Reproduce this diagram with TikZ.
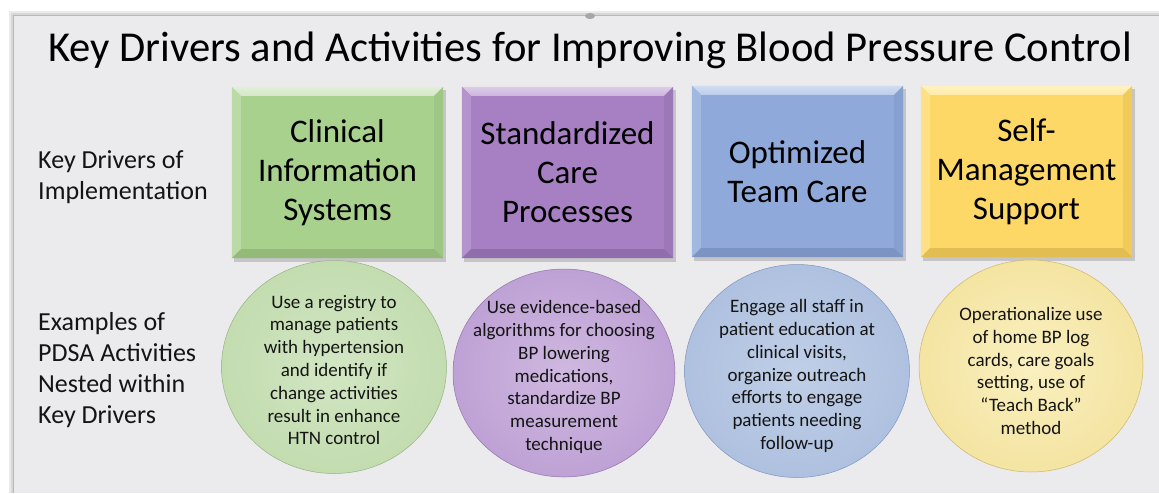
\documentclass[tikz,border=0pt]{standalone}
\usepackage{fontspec}
\setmainfont{Carlito}
\usetikzlibrary{calc,shapes.geometric}
% box colours
\definecolor{gbase}{HTML}{A9D18E}\definecolor{gtop}{HTML}{D4E8C6}\definecolor{gleft}{HTML}{BBDAA5}\definecolor{gright}{HTML}{9FC784}\definecolor{gbot}{HTML}{93BA78}
\definecolor{pbase}{HTML}{A680C2}\definecolor{ptop}{HTML}{CDB5DE}\definecolor{pleft}{HTML}{B593CD}\definecolor{pright}{HTML}{9C78B8}\definecolor{pbot}{HTML}{906DAC}
\definecolor{bbase}{HTML}{8FAADA}\definecolor{btop}{HTML}{BCCDEB}\definecolor{bleft}{HTML}{A1B8E1}\definecolor{bright}{HTML}{86A0CF}\definecolor{bbot}{HTML}{7C94C2}
\definecolor{ybase}{HTML}{FDD866}\definecolor{ytop}{HTML}{FFEBA8}\definecolor{yleft}{HTML}{FFE085}\definecolor{yright}{HTML}{F0CB5B}\definecolor{ybot}{HTML}{E2BD52}
% circle colours
\definecolor{gc1}{HTML}{D2E6C3}\definecolor{gc2}{HTML}{C0DAAC}\definecolor{gc3}{HTML}{A6C78E}
\definecolor{pc1}{HTML}{CFB8E0}\definecolor{pc2}{HTML}{BB9DD3}\definecolor{pc3}{HTML}{A284BD}
\definecolor{bc1}{HTML}{C0CFE7}\definecolor{bc2}{HTML}{ABBEDE}\definecolor{bc3}{HTML}{8FA6CF}
\definecolor{yc1}{HTML}{FAF0C0}\definecolor{yc2}{HTML}{F3E29C}\definecolor{yc3}{HTML}{E6CB72}
\definecolor{slide}{HTML}{EBEAEC}
\pgfdeclareradialshading{gshade}{\pgfpointorigin}{color(0bp)=(gc1); color(30bp)=(gc2); color(50bp)=(gc3)}
\pgfdeclareradialshading{pshade}{\pgfpointorigin}{color(0bp)=(pc1); color(30bp)=(pc2); color(50bp)=(pc3)}
\pgfdeclareradialshading{bshade}{\pgfpointorigin}{color(0bp)=(bc1); color(30bp)=(bc2); color(50bp)=(bc3)}
\pgfdeclareradialshading{yshade}{\pgfpointorigin}{color(0bp)=(yc1); color(30bp)=(yc2); color(50bp)=(yc3)}
\tikzset{
  kdbox/.style={rectangle, inner sep=0pt, minimum width=211pt, minimum height=171pt,
    align=center, font=\fontsize{33}{39}\selectfont, text=black},
  kdcirc/.style={ellipse, inner sep=0pt, draw=#1c3!90!black, line width=0.5pt, shading=#1shade},
  kdctext/.style={align=center, font=\fontsize{19}{22.8}\selectfont, text=black!92},
  kdlabel/.style={anchor=west, align=left, font=\fontsize{26}{31}\selectfont, text=black!92, inner sep=0pt},
}
\newcommand{\bevbox}[5]{%
  \fill[black,opacity=.16] (#2+2,#3+3) rectangle ++(212,172);
  \node[kdbox, fill=#4base] (#1) at (#2+105.5,#3+85.5) {#5};
  \shade[top color=#4top!70!white, bottom color=#4top] (#1.north west) -- (#1.north east) -- ($(#1.north east)+(-9,9)$) -- ($(#1.north west)+(9,9)$) -- cycle;
  \fill[#4left] (#1.north west) -- ($(#1.north west)+(9,9)$) -- ($(#1.south west)+(9,-9)$) -- (#1.south west) -- cycle;
  \fill[#4right] (#1.north east) -- ($(#1.north east)+(-9,9)$) -- ($(#1.south east)+(-9,-9)$) -- (#1.south east) -- cycle;
  \fill[#4bot] (#1.south west) -- ($(#1.south west)+(9,-9)$) -- ($(#1.south east)+(-9,-9)$) -- (#1.south east) -- cycle;
}
\begin{document}
\begin{tikzpicture}[x=1pt,y=-1pt]
\useasboundingbox (0,0) rectangle (1159,493);
\fill[white] (0,0) rectangle (1159,493);
% slide with soft shadow
\fill[black!8] (9,11) rectangle (1159,493);
\fill[black!16] (11,13) rectangle (1159,493);
\fill[black!28] (13,15) rectangle (1159,493);
\fill[slide] (14,16) rectangle (1159,493);
\fill[black!35] (590,16) ellipse (5 and 3);
% title
\node[font=\fontsize{42.6}{48}\selectfont, text=black] (title) at (590,50) {Key Drivers and Activities for Improving Blood Pressure Control};
% row labels
\node[kdlabel] (lab1) at (38,177) {Key Drivers of\\Implementation};
\node[kdlabel] (lab2) at (38,370) {Examples of\\PDSA Activities\\Nested within\\Key Drivers};
% key driver boxes
\bevbox{b1}{232}{87}{g}{Clinical\\Information\\Systems}
\bevbox{b2}{462}{87}{p}{Standardized\\Care\\Processes}
\bevbox{b3}{692}{86}{b}{Optimized\\Team Care}
\bevbox{b4}{921}{86}{y}{Self-\\Management\\Support}
% activity circles
\node[kdcirc=g, minimum width=225pt, minimum height=213pt] (c1) at (334,367) {};
\node[kdcirc=p, minimum width=222pt, minimum height=208pt] (c2) at (564,373) {};
\node[kdcirc=b, minimum width=225pt, minimum height=213pt] (c3) at (797,371) {};
\node[kdcirc=y, minimum width=224pt, minimum height=212pt] (c4) at (1031,366) {};
\node[kdctext] (t1) at ($(c1)+(0,3)$) {Use a registry to\\manage patients\\with hypertension\\and identify if\\change activities\\result in enhance\\HTN control};
\node[kdctext] (t2) at ($(c2)+(0,4)$) {Use evidence-based\\algorithms for choosing\\BP lowering\\medications,\\standardize BP\\measurement\\technique};
\node[kdctext] (t3) at ($(c3)+(0,5)$) {Engage all staff in\\patient education at\\clinical visits,\\organize outreach\\efforts to engage\\patients needing\\follow-up};
\node[kdctext] (t4) at ($(c4)+(0,5)$) {Operationalize use\\of home BP log\\cards, care goals\\setting, use of\\“Teach Back”\\method};
\end{tikzpicture}
\end{document}
